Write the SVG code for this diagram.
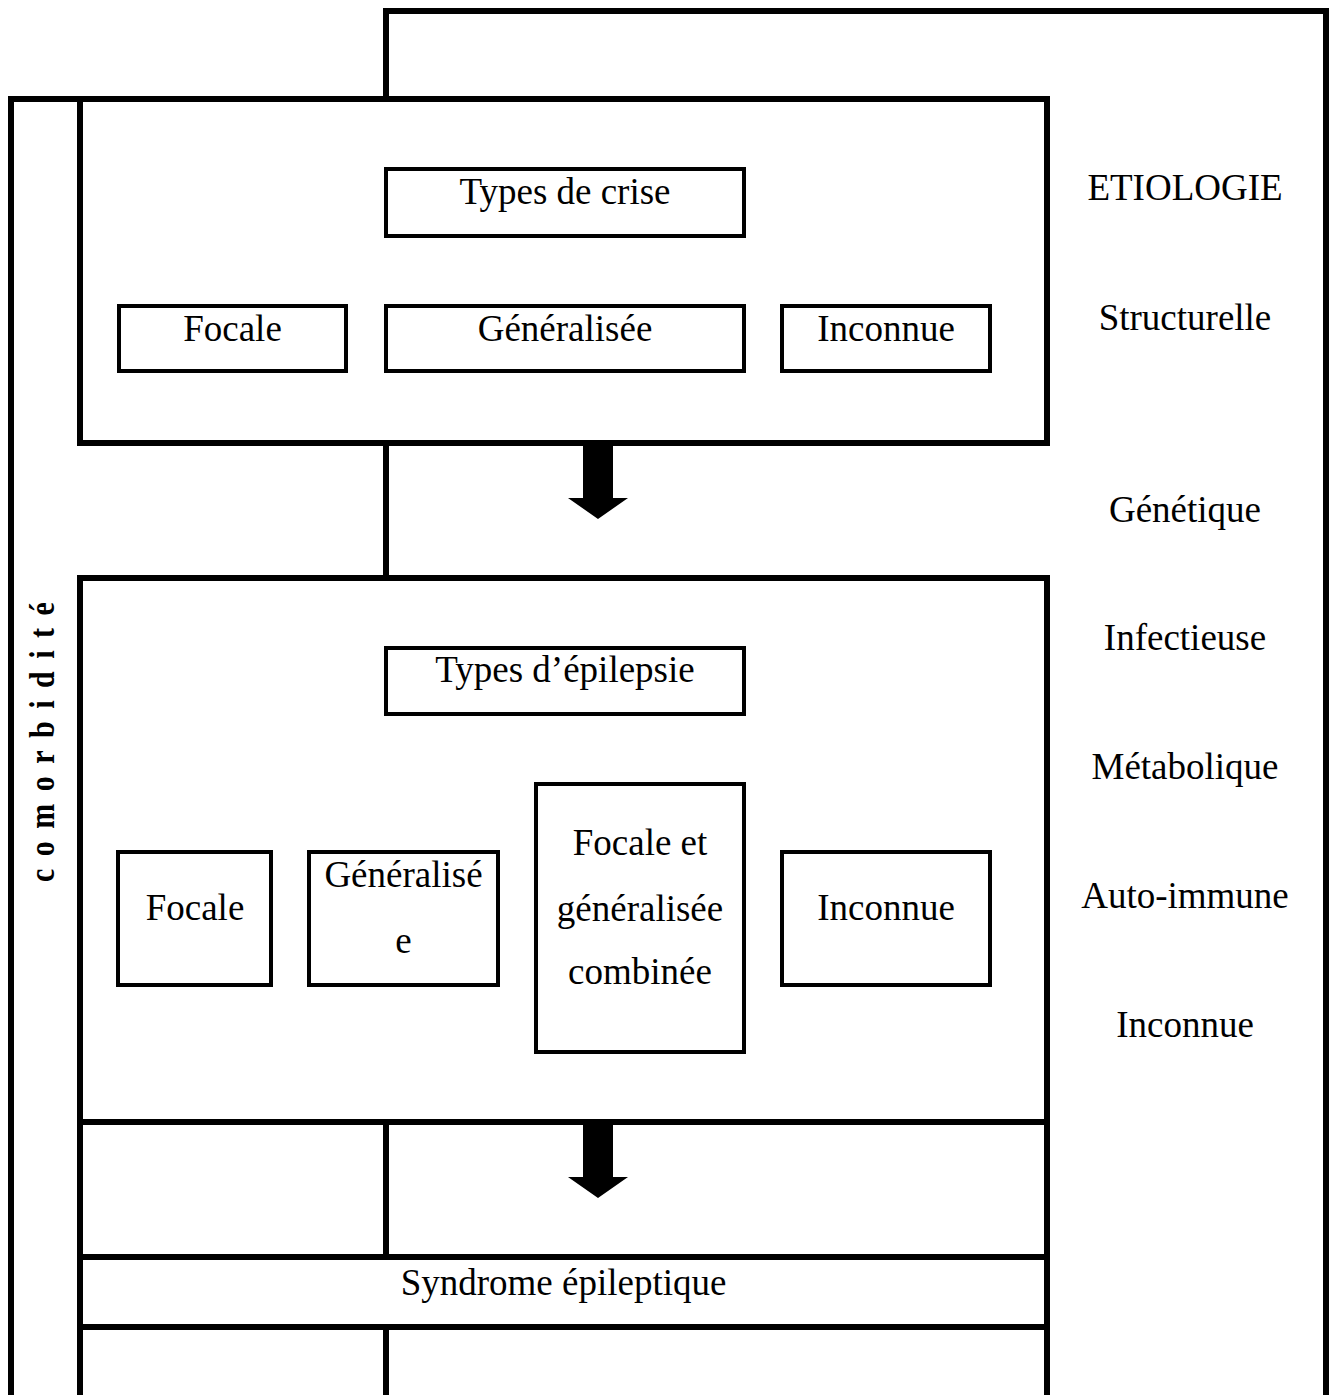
<svg xmlns="http://www.w3.org/2000/svg" width="1333" height="1395" viewBox="0 0 1333 1395">
<style>
  .frame{fill:none;stroke:#000;stroke-width:6;stroke-linejoin:miter;stroke-linecap:square}
  .box{fill:#fff;stroke:#000;stroke-width:4}
  .t{font-family:"Liberation Serif","Times New Roman",serif;font-size:37px;fill:#000;text-anchor:middle}
  .v{font-family:"Liberation Serif","Times New Roman",serif;font-size:30px;font-weight:bold;fill:#000;letter-spacing:12.5px}
</style>
<rect width="1333" height="1395" fill="#fff"/>
<g id="connectors">
  <path class="frame" d="M11,1400 V99 H80"/>
  <path class="frame" d="M386,99 V11 H1326 V1400"/>
  <path class="frame" d="M386,443 V578"/>
  <path class="frame" d="M80,1400 V578 H1047 V1400"/>
  <path class="frame" d="M80,1122 H1047 M80,1257 H1047 M80,1327 H1047"/>
  <path class="frame" d="M386,1122 V1257 M386,1327 V1400"/>
  <polygon points="583,446 613,446 613,498 628,498 598,519 568,498 583,498" fill="#000"/>
  <polygon points="583,1125 613,1125 613,1177 628,1177 598,1198 568,1177 583,1177" fill="#000"/>
</g>
<g id="seizure-types">
  <rect class="frame" x="80" y="99" width="967" height="344"/>
  <g id="types-crise"><rect class="box" x="386" y="169" width="358" height="67"/><text class="t" x="565" y="204">Types de crise</text></g>
  <g id="crise-focale"><rect class="box" x="119" y="306" width="227" height="65"/><text class="t" x="232.5" y="341">Focale</text></g>
  <g id="crise-generalisee"><rect class="box" x="386" y="306" width="358" height="65"/><text class="t" x="565" y="341">Généralisée</text></g>
  <g id="crise-inconnue"><rect class="box" x="782" y="306" width="208" height="65"/><text class="t" x="886" y="341">Inconnue</text></g>
</g>
<g id="epilepsy-types">
  <g id="types-epilepsie"><rect class="box" x="386" y="648" width="358" height="66"/><text class="t" x="565" y="682">Types d’épilepsie</text></g>
  <g id="epi-focale"><rect class="box" x="118" y="852" width="153" height="133"/><text class="t" x="195" y="920">Focale</text></g>
  <g id="epi-generalisee"><rect class="box" x="309" y="852" width="189" height="133"/><text class="t" x="403.5" y="887">Généralisé</text><text class="t" x="403.5" y="953">e</text></g>
  <g id="epi-combinee"><rect class="box" x="536" y="784" width="208" height="268"/><text class="t" x="640" y="855">Focale et</text><text class="t" x="640" y="921">généralisée</text><text class="t" x="640" y="984">combinée</text></g>
  <g id="epi-inconnue"><rect class="box" x="782" y="852" width="208" height="133"/><text class="t" x="886" y="920">Inconnue</text></g>
</g>
<g id="syndrome"><text class="t" x="563.5" y="1295">Syndrome épileptique</text></g>
<g id="etiologie">
  <text class="t" x="1185" y="200">ETIOLOGIE</text>
  <text class="t" x="1185" y="330">Structurelle</text>
  <text class="t" x="1185" y="522">Génétique</text>
  <text class="t" x="1185" y="650">Infectieuse</text>
  <text class="t" x="1185" y="779">Métabolique</text>
  <text class="t" x="1185" y="908">Auto-immune</text>
  <text class="t" x="1185" y="1037">Inconnue</text>
</g>
<g id="comorbidite">
  <text class="v" transform="translate(54,882) rotate(-90) scale(1,1.2)" x="0" y="0">comorbidité</text>
</g>
</svg>
